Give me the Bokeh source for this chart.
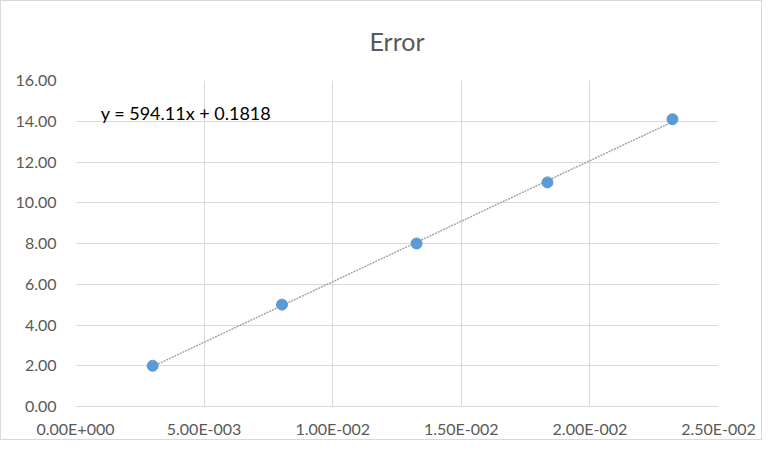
from bokeh.plotting import figure
from bokeh.models import (ColumnDataSource, Label, FixedTicker, NumeralTickFormatter,
                          CustomJSTickFormatter, Range1d)
from bokeh.embed import file_html
from bokeh.resources import INLINE

# ---- data ----
x_vals = [0.00300, 0.00803, 0.01326, 0.01835, 0.02321]
y_vals = [2.0, 5.0, 8.0, 11.0, 14.1]
trend_slope = 594.11
trend_intercept = 0.1818
equation_text = "y = 594.11x + 0.1818"
title_text = "Error"
x_ticks = [0.0, 0.005, 0.010, 0.015, 0.020, 0.025]
y_ticks = [0, 2, 4, 6, 8, 10, 12, 14, 16]

FONT = "Lato"
GRID = "#d9d9d9"
LABEL = "#595959"

p = figure(width=762, height=440, output_backend="svg", toolbar_location=None,
           x_range=Range1d(0, 0.025), y_range=Range1d(0, 16),
           min_border_left=74, min_border_right=45, min_border_top=79, min_border_bottom=35,
           title=title_text)
p.styles = {"border": "1px solid #d9d9d9", "box-sizing": "border-box"}

p.title.align = "center"
p.title.vertical_align = "top"
p.title.text_font = FONT
p.title.text_font_size = "25px"
p.title.text_font_style = "normal"
p.title.text_color = LABEL
p.title.standoff = 45

p.outline_line_color = None
p.background_fill_color = "white"
p.border_fill_color = "white"

p.xgrid.ticker = FixedTicker(ticks=x_ticks)
p.ygrid.ticker = FixedTicker(ticks=y_ticks)
p.xgrid.grid_line_color = GRID
p.ygrid.grid_line_color = GRID

p.xaxis.ticker = FixedTicker(ticks=x_ticks)
p.yaxis.ticker = FixedTicker(ticks=y_ticks)
p.xaxis.formatter = CustomJSTickFormatter(code="""
    if (Math.abs(tick) < 1e-12) return "0.00E+000";
    const e = Math.floor(Math.log10(Math.abs(tick)) + 1e-9);
    const m = tick / Math.pow(10, e);
    const s = e < 0 ? "-" : "+";
    return m.toFixed(2) + "E" + s + String(Math.abs(e)).padStart(3, "0");
""")
p.yaxis.formatter = NumeralTickFormatter(format="0.00")

for ax in (p.xaxis, p.yaxis):
    ax.major_tick_line_color = None
    ax.minor_tick_line_color = None
    ax.major_label_text_font = FONT
    ax.major_label_text_font_size = "16px"
    ax.major_label_text_color = LABEL
p.xaxis.axis_line_color = GRID
p.yaxis.axis_line_color = None
p.xaxis.major_label_standoff = 6
p.yaxis.major_label_standoff = 13

# trendline
xs_t = [min(x_vals), max(x_vals)]
ys_t = [trend_slope * v + trend_intercept for v in xs_t]
p.line(xs_t, ys_t, line_color="#a0a0a0", line_width=1.4, line_dash="2 1")

src = ColumnDataSource(data=dict(x=x_vals, y=y_vals))
p.scatter("x", "y", source=src, size=11, fill_color="#5b9bd5", line_color="#5b9bd5")

p.add_layout(Label(x=0.00098, y=14.4, text=equation_text, text_font=FONT,
                   text_font_size="18px", text_color="black", text_baseline="middle"))

open("out.html", "w").write(file_html(p, INLINE))
